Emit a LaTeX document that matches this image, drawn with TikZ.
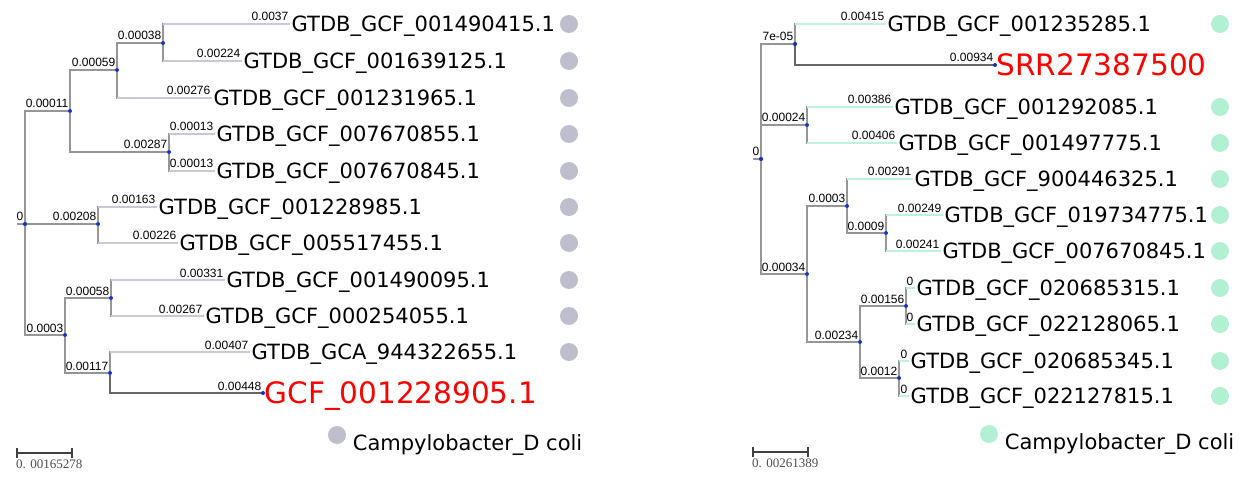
\documentclass[tikz,border=0pt]{standalone}
\usepackage{fontspec}
\setmainfont{DejaVu Sans}
\newfontfamily\lenfont{Liberation Sans}
\newfontfamily\barfont{Liberation Serif}
\usepackage{tikz}
\usetikzlibrary{positioning}
\definecolor{dotblue}{RGB}{20,50,205}
\definecolor{branchgray}{RGB}{150,150,150}
\definecolor{leafgray}{RGB}{200,200,214}
\definecolor{leafmint}{RGB}{190,242,222}
\definecolor{dotgray}{RGB}{190,190,204}
\definecolor{dotmint}{RGB}{178,240,212}
\tikzstyle{tinyvertex}=[circle,fill=dotblue,minimum size=4pt,inner sep=0pt]
\tikzstyle{leafend}=[inner sep=0pt,minimum size=0pt]
\tikzstyle{branch}=[draw,line width=1.2pt,branchgray]
\tikzstyle{leafbranch}=[draw,line width=1.2pt]
\tikzstyle{weight}=[font=\lenfont\fontsize{12}{12}\selectfont,anchor=base east,xshift=-1.5pt,yshift=3pt,inner sep=0pt]
\tikzstyle{taxon}=[font=\fontsize{21}{21}\selectfont,anchor=base west,yshift=-7.5pt,inner sep=1.5pt]
\tikzstyle{query}=[font=\fontsize{29.5}{29.5}\selectfont,anchor=base west,yshift=-10.5pt,inner sep=1.5pt,text=red]
\tikzstyle{legenddot}=[circle,minimum size=18pt,inner sep=0pt]
\tikzstyle{scalebar}=[draw,line width=1.2pt,black!75]

\begin{document}
\begin{tikzpicture}[x=1pt,y=-1pt]
    \path[use as bounding box] (0,0) rectangle (1258,481);

%left tree
    % First we place the inner vertices
    \foreach \pos/\name in {{(25,224)/r0}, {(70,111)/a}, {(117,70)/b}, {(163,43)/c}, {(169,152)/d}, {(98,224)/e}, {(65,335)/f}, {(111,298)/g}, {(110,373)/h}}
        \node[tinyvertex] (\name) at \pos {};
    \node[leafend] (r0s) at (17,224) {};
    \foreach \pos/\name in {{(290,24)/l1}, {(242,61)/l2}, {(212,98)/l3}, {(215,134)/l4}, {(215,171)/l5}, {(157,207)/l6}, {(178,243)/l7}, {(225,280)/l8}, {(204,316)/l9}, {(250,352)/l10}, {(263,393)/l11}}
        \node[leafend] (\name) at \pos {};
    % Connect inner vertices and draw weights
    \path[branch] (r0s) -- (r0);
    \node[weight] at (r0) {0};
    \foreach \source/\dest/\weight in {r0/a/0.00011, a/b/0.00059, b/c/0.00038, a/d/0.00287, r0/e/0.00208, r0/f/0.0003, f/g/0.00058, f/h/0.00117}
        {\path[branch] (\source) |- (\dest);
         \node[weight] at (\dest) {\weight};}
    % leaves
    \foreach \source/\dest/\weight/\taxon in {c/l1/0.0037/GTDB\_GCF\_001490415.1, c/l2/0.00224/GTDB\_GCF\_001639125.1, b/l3/0.00276/GTDB\_GCF\_001231965.1, d/l4/0.00013/GTDB\_GCF\_007670855.1, d/l5/0.00013/GTDB\_GCF\_007670845.1, e/l6/0.00163/GTDB\_GCF\_001228985.1, e/l7/0.00226/GTDB\_GCF\_005517455.1, g/l8/0.00331/GTDB\_GCF\_001490095.1, g/l9/0.00267/GTDB\_GCF\_000254055.1, h/l10/0.00407/GTDB\_GCA\_944322655.1}
        {\path[branch] (\source) |- (\dest);
         \path[leafbranch,leafgray] (\source |- \dest) -- (\dest);
         \node[weight] at (\dest) {\weight};
         \node[taxon] at (\dest) {\taxon};}
    \path[branch,black!60] (h) |- (l11);
    \node[tinyvertex] at (l11) {};
    \node[weight] at (l11) {0.00448};
    \node[query] at (l11) {GCF\_001228905.1};
    \node[tinyvertex] at (r0) {};
    \foreach \y/\name in {24/g1, 61/g2, 98/g3, 134/g4, 171/g5, 207/g6, 243/g7, 280/g8, 316/g9, 352/g10}
        \node[legenddot,fill=dotgray] (\name) at (569,\y) {};
    \node[legenddot,fill=dotgray] (lg1) at (337,435) {};
    \node[taxon,anchor=west,yshift=-2pt,right=5pt of lg1] {Campylobacter\_D coli};
    \draw[scalebar] (17,448) -- (17,458) (17,453) -- (72,453) (72,448) -- (72,458);
    \node[font=\barfont\fontsize{13}{13}\selectfont,black!70,anchor=north west,inner sep=0pt] at (16,460) {0. 00165278};

%right tree
    \foreach \pos/\name in {{(761,159)/R0}, {(795,44)/A}, {(807,125)/B}, {(807,274)/C}, {(847,206)/D}, {(886,233)/E}, {(860,342)/F}, {(906,306)/G}, {(899,378)/H}}
        \node[tinyvertex] (\name) at \pos {};
    \node[leafend] (R0s) at (753,159) {};
    \foreach \pos/\name in {{(886,24)/m1}, {(995,65)/m2}, {(893,107)/m3}, {(897,143)/m4}, {(913,179)/m5}, {(943,215)/m6}, {(941,251)/m7}, {(915,288)/m8}, {(915,324)/m9}, {(909,361)/m10}, {(909,396)/m11}}
        \node[leafend] (\name) at \pos {};
    \path[branch] (R0s) -- (R0);
    \node[weight] at (R0) {0};
    \foreach \source/\dest/\weight in {R0/A/7e-05, R0/B/0.00024, R0/C/0.00034, C/D/0.0003, D/E/0.0009, C/F/0.00234, F/G/0.00156, F/H/0.0012}
        {\path[branch] (\source) |- (\dest);
         \node[weight] at (\dest) {\weight};}
    \foreach \source/\dest/\weight/\taxon in {A/m1/0.00415/GTDB\_GCF\_001235285.1, B/m3/0.00386/GTDB\_GCF\_001292085.1, B/m4/0.00406/GTDB\_GCF\_001497775.1, D/m5/0.00291/GTDB\_GCF\_900446325.1, E/m6/0.00249/GTDB\_GCF\_019734775.1, E/m7/0.00241/GTDB\_GCF\_007670845.1, G/m8/0/GTDB\_GCF\_020685315.1, G/m9/0/GTDB\_GCF\_022128065.1, H/m10/0/GTDB\_GCF\_020685345.1, H/m11/0/GTDB\_GCF\_022127815.1}
        {\path[branch] (\source) |- (\dest);
         \path[leafbranch,leafmint] (\source |- \dest) -- (\dest);
         \node[weight] at (\dest) {\weight};
         \node[taxon] at (\dest) {\taxon};}
    \path[branch,black!60] (A) |- (m2);
    \node[tinyvertex] at (m2) {};
    \node[weight] at (m2) {0.00934};
    \node[query] at (m2) {SRR27387500};
    \node[tinyvertex] at (R0) {};
    \node[tinyvertex] at (A) {};
    \foreach \y/\name in {24/n1, 107/n3, 143/n4, 179/n5, 215/n6, 251/n7, 288/n8, 324/n9, 361/n10, 396/n11}
        \node[legenddot,fill=dotmint] (\name) at (1220,\y) {};
    \node[legenddot,fill=dotmint] (lg2) at (989,434) {};
    \node[taxon,anchor=west,yshift=-2pt,right=5pt of lg2] {Campylobacter\_D coli};
    \draw[scalebar] (753,447) -- (753,457) (753,452) -- (808,452) (808,447) -- (808,457);
    \node[font=\barfont\fontsize{13}{13}\selectfont,black!70,anchor=north west,inner sep=0pt] at (752,459) {0. 00261389};
\end{tikzpicture}
\end{document}
